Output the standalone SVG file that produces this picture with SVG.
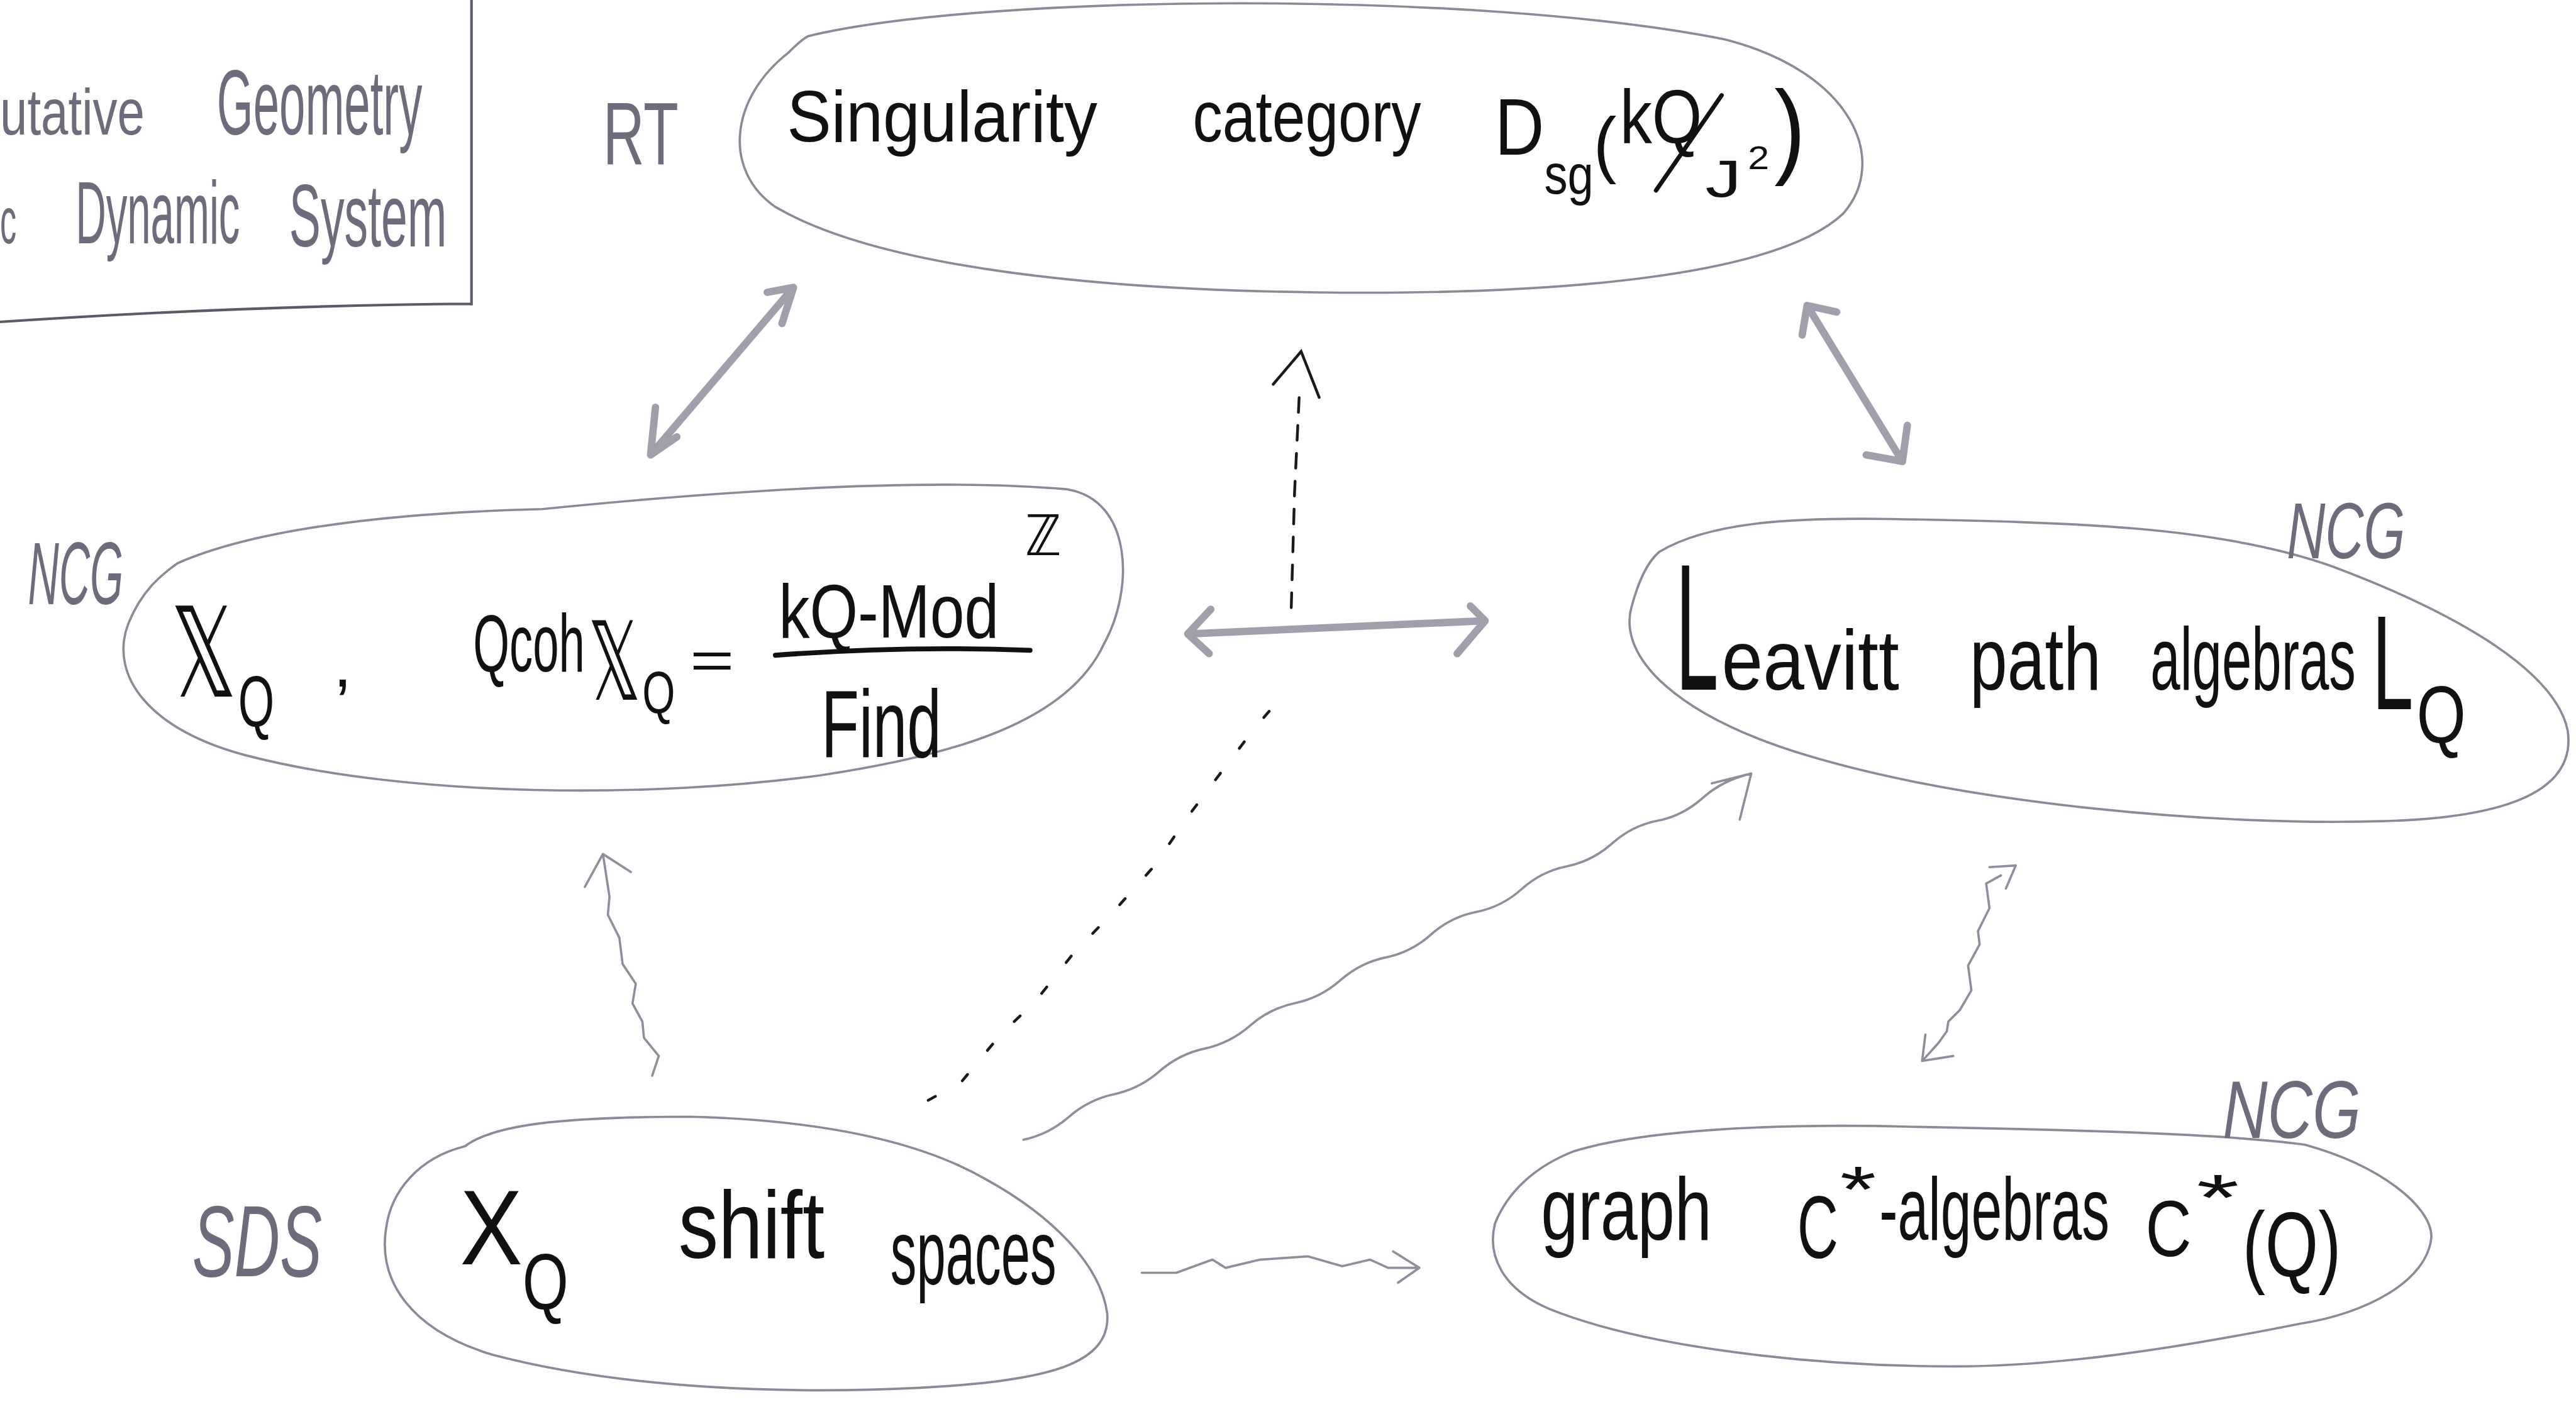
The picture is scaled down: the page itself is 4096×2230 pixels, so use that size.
<svg xmlns="http://www.w3.org/2000/svg" width="4096" height="2230" viewBox="0 0 4096 2230">
<style>
.ol{fill:none;stroke:#8a8a98;stroke-width:1.4;stroke-linejoin:round;stroke-linecap:round}
.t{font-family:"Liberation Sans","DejaVu Sans",sans-serif;fill:#111}
.m{font-family:"DejaVu Sans","Liberation Sans",sans-serif}
.lb{font-family:"Liberation Sans",sans-serif;fill:#6c6c7c;font-style:italic}
.up{font-style:normal}
.thick{fill:none;stroke:#a0a0ac;stroke-width:4.5;stroke-linecap:round;stroke-linejoin:round}
.wave{fill:none;stroke:#8e8e9c;stroke-width:1.4;stroke-linecap:round;stroke-linejoin:round}
.dash{fill:none;stroke:#1a1a1a;stroke-width:1.7;stroke-linecap:round}
.box{fill:none;stroke:#5a5a68;stroke-width:1.6}
.pen{fill:none;stroke:#111;stroke-width:2.6;stroke-linecap:round}
</style>
<rect width="4096" height="2230" fill="#ffffff"/>
<g transform="scale(2.6122)">
  <g id="legend">
    <path class="box" d="M287 0 L287 186 M0 196 Q150 186 287 185"/>
    <text class="lb up" x="0" y="82" font-size="40" textLength="88" lengthAdjust="spacingAndGlyphs">utative</text>
    <text class="lb up" x="132" y="82" font-size="56" textLength="125" lengthAdjust="spacingAndGlyphs">Geometry</text>
    <text class="lb up" x="0" y="148" font-size="40" textLength="10" lengthAdjust="spacingAndGlyphs">c</text>
    <text class="lb up" x="46" y="148" font-size="54" textLength="100" lengthAdjust="spacingAndGlyphs">Dynamic</text>
    <text class="lb up" x="176" y="150" font-size="54" textLength="96" lengthAdjust="spacingAndGlyphs">System</text>
  </g>

  <g id="node-singularity">
    <path class="ol" d="M492 22 C600 -4 900 -6 1050 24 C1128 44 1150 98 1122 130 C1082 168 950 180 800 178 C650 176 530 160 472 126 C440 104 444 60 480 32 C484 28 488 24 492 22 Z"/>
    <text class="lb up" x="367" y="100" font-size="54" textLength="46" lengthAdjust="spacingAndGlyphs">RT</text>
    <text class="t" x="479" y="86" font-size="44" textLength="189" lengthAdjust="spacingAndGlyphs">Singularity</text>
    <text class="t" x="726" y="86" font-size="44" textLength="139" lengthAdjust="spacingAndGlyphs">category</text>
    <text class="t"><tspan x="910" y="94" font-size="49" textLength="30" lengthAdjust="spacingAndGlyphs">D</tspan><tspan x="940" y="118" font-size="34" textLength="30" lengthAdjust="spacingAndGlyphs">sg</tspan><tspan x="970" y="103" font-size="45" textLength="14" lengthAdjust="spacingAndGlyphs">(</tspan><tspan x="986" y="87" font-size="46" textLength="50" lengthAdjust="spacingAndGlyphs">kQ</tspan><tspan x="1038" y="120" font-size="32" textLength="22" lengthAdjust="spacingAndGlyphs">J</tspan><tspan x="1064" y="103" font-size="20" textLength="13" lengthAdjust="spacingAndGlyphs">2</tspan><tspan x="1080" y="100" font-size="64" textLength="19" lengthAdjust="spacingAndGlyphs">)</tspan></text>
    <path class="pen" d="M1048 58 L1008 116"/>
  </g>

  <g id="node-qcoh">
    <path class="ol" d="M108 343 C160 320 250 312 330 310 C430 300 560 290 650 298 C690 305 690 360 672 392 C650 440 580 460 500 472 C400 486 250 486 150 460 C92 445 66 412 78 380 C86 360 98 350 108 343 Z"/>
    <text class="lb" x="17" y="368" font-size="54" textLength="58" lengthAdjust="spacingAndGlyphs">NCG</text>
    <text class="t"><tspan class="m" x="104" y="424" font-size="76" textLength="40" lengthAdjust="spacingAndGlyphs">𝕏</tspan><tspan x="145" y="442" font-size="44" textLength="22" lengthAdjust="spacingAndGlyphs">Q</tspan><tspan x="203" y="418" font-size="40">,</tspan><tspan x="288" y="409" font-size="50" textLength="68" lengthAdjust="spacingAndGlyphs">Qcoh</tspan><tspan class="m" x="358" y="426" font-size="66" textLength="32" lengthAdjust="spacingAndGlyphs">𝕏</tspan><tspan x="391" y="434" font-size="36" textLength="20" lengthAdjust="spacingAndGlyphs">Q</tspan><tspan x="420" y="413" font-size="32" textLength="27" lengthAdjust="spacingAndGlyphs">=</tspan><tspan x="474" y="388" font-size="46" textLength="134" lengthAdjust="spacingAndGlyphs">kQ-Mod</tspan><tspan class="m" x="624" y="338" font-size="34" textLength="22" lengthAdjust="spacingAndGlyphs">ℤ</tspan><tspan x="500" y="461" font-size="58" textLength="73" lengthAdjust="spacingAndGlyphs">Find</tspan></text>
    <path d="M472 399 Q550 393 627 396" fill="none" stroke="#111" stroke-width="3" stroke-linecap="round"/>
  </g>

  <g id="node-leavitt">
    <path class="ol" d="M1010 336 C1040 318 1090 315 1150 316 C1260 318 1350 320 1420 345 C1500 375 1556 410 1563 445 C1568 480 1530 498 1450 500 C1350 503 1200 490 1100 460 C1020 436 985 400 993 370 C997 355 1002 343 1010 336 Z"/>
    <text class="lb" x="1392" y="340" font-size="48" textLength="72" lengthAdjust="spacingAndGlyphs">NCG</text>
    <text class="t"><tspan x="1020" y="420" font-size="110" textLength="26" lengthAdjust="spacingAndGlyphs">L</tspan><tspan x="1048" y="420" font-size="52" textLength="108" lengthAdjust="spacingAndGlyphs">eavitt</tspan><tspan x="1199" y="420" font-size="54" textLength="80" lengthAdjust="spacingAndGlyphs">path</tspan><tspan x="1309" y="420" font-size="54" textLength="125" lengthAdjust="spacingAndGlyphs">algebras</tspan><tspan x="1444" y="432" font-size="82" textLength="25" lengthAdjust="spacingAndGlyphs">L</tspan><tspan x="1471" y="452" font-size="50" textLength="30" lengthAdjust="spacingAndGlyphs">Q</tspan></text>
  </g>

  <g id="node-shift">
    <path class="ol" d="M283 698 C300 685 340 680 420 680 C500 682 560 695 600 718 C640 740 670 770 674 800 C676 830 640 841 560 845 C480 849 380 846 300 825 C250 810 230 780 235 748 C238 725 255 705 283 698 Z"/>
    <text class="lb" x="117" y="777" font-size="62" textLength="79" lengthAdjust="spacingAndGlyphs">SDS</text>
    <text class="t"><tspan x="280" y="770" font-size="65" textLength="38" lengthAdjust="spacingAndGlyphs">X</tspan><tspan x="318" y="797" font-size="48" textLength="28" lengthAdjust="spacingAndGlyphs">Q</tspan><tspan x="413" y="766" font-size="58" textLength="89" lengthAdjust="spacingAndGlyphs">shift</tspan><tspan x="542" y="782" font-size="56" textLength="101" lengthAdjust="spacingAndGlyphs">spaces</tspan></text>
  </g>

  <g id="node-graph">
    <path class="ol" d="M958 701 C1000 688 1080 684 1160 686 C1260 688 1350 690 1403 697 C1450 710 1480 735 1480 753 C1478 780 1440 800 1400 806 C1320 822 1250 832 1190 832 C1100 832 1000 820 943 797 C915 785 905 765 910 745 C918 725 935 710 958 701 Z"/>
    <text class="lb" x="1353" y="693" font-size="50" textLength="84" lengthAdjust="spacingAndGlyphs">NCG</text>
    <text class="t"><tspan x="938" y="755" font-size="54" textLength="104" lengthAdjust="spacingAndGlyphs">graph</tspan><tspan x="1094" y="766" font-size="54" textLength="25" lengthAdjust="spacingAndGlyphs">C</tspan><tspan x="1120" y="738" font-size="40" textLength="22" lengthAdjust="spacingAndGlyphs">*</tspan><tspan x="1144" y="755" font-size="54" textLength="140" lengthAdjust="spacingAndGlyphs">-algebras</tspan><tspan x="1306" y="765" font-size="48" textLength="28" lengthAdjust="spacingAndGlyphs">C</tspan><tspan x="1337" y="743" font-size="40" textLength="26" lengthAdjust="spacingAndGlyphs">*</tspan><tspan x="1365" y="777" font-size="56" textLength="60" lengthAdjust="spacingAndGlyphs">(Q)</tspan></text>
  </g>

  <g id="connectors">
    <path class="thick" d="M483 175 L396 277 M467 178 L483 175 L476 197 M399 248 L396 277 L412 266"/>
    <path class="thick" d="M1100 186 L1158 281 M1097 204 L1100 186 L1118 190 M1161 259 L1158 281 L1136 277"/>
    <path class="thick" stroke-width="5.5" d="M723 386 L904 378 M737 371 L723 386 L736 398 M895 369 L904 378 L887 398"/>
    <path class="dash" stroke-dasharray="5 19" d="M565 670 L585 659 L609 630 L630 610 L653 581 L677 556 L702 528 L724 496 L745 468 L764 443 L783 421"/>
    <path class="dash" stroke-dasharray="9 8" d="M786 370 L788 300 L791 238"/>
    <path class="dash" d="M775 234 L792 214 L803 242"/>
    <path class="wave" d="M397 655 L401 643 L392 632 L391 622 L385 611 L387 599 L379 587 L377 571 L370 557 L371 546 L367 520 M356 540 L367 520 L384 531"/>
    <path class="wave" d="M1227 527 L1211 528 M1227 527 L1221 541 M1218 533 L1209 538 L1211 553 L1204 567 L1205 575 L1198 588 L1200 603 L1193 615 L1186 622 L1185 628 L1180 635 L1171 645 M1172 630 L1170 646 L1189 643"/>
    <path class="wave" d="M623 694 Q638.6 690.6 650.6 680.1 T678.1 666.3 T705.7 652.4 T733.2 638.5 T760.8 624.6 T788.4 610.8 T815.9 596.9 T843.5 583 T871 569.1 T898.6 555.3 T926.2 541.4 T953.7 527.5 T981.3 513.6 T1008.8 499.8 T1036.4 485.9 T1066 471 M1042 477 L1066 471 L1059 499"/>
    <path class="wave" d="M695 775 L716 775 L738 767 L746 772 L767 767 L796 765 L817 771 L834 767 L845 772 L864 772 M848 762 L864 772 L851 781"/>
  </g>
</g>
</svg>
